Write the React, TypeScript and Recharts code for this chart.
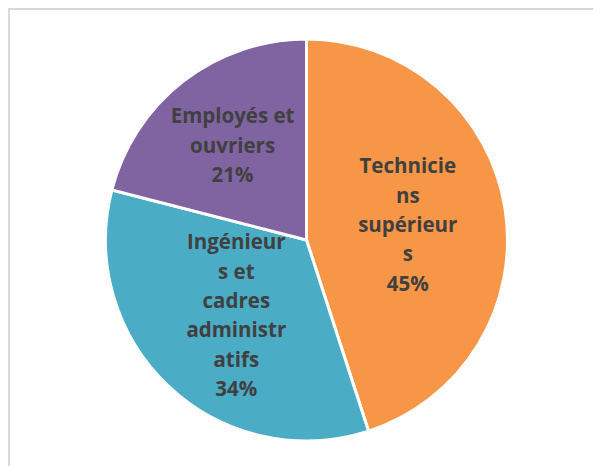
import React from "react";
import { PieChart, Pie, Cell } from "recharts";

const categories = ["Techniciens supérieurs", "Ingénieurs et cadres administratifs", "Employés et ouvriers"];
const values = [45, 34, 21];
const percentLabels = ["45%", "34%", "21%"];
const labelLines = [
  ["Technicie", "ns", "supérieur", "s"],
  ["Ingénieur", "s et", "cadres", "administr", "atifs"],
  ["Employés et", "ouvriers"],
];
const colors = ["#F79646", "#4BACC6", "#8064A2"];

const data = categories.map((name, i) => ({ name, value: values[i] }));

const RAD = Math.PI / 180;
const labelRadiusFactor = [0.51, 0.51, 0.6];

const renderLabel = (props: any) => {
  const { cx, cy, midAngle, outerRadius, index } = props;
  const r = outerRadius * labelRadiusFactor[index];
  const x = cx + r * Math.cos(-midAngle * RAD);
  const y = cy + r * Math.sin(-midAngle * RAD);
  const lines = [...labelLines[index], percentLabels[index]];
  const lh = 29.3;
  const startY = y - ((lines.length - 1) * lh) / 2;
  return (
    <text
      x={x}
      y={startY}
      textAnchor="middle"
      dominantBaseline="central"
      fill="#404040"
      fontFamily="'Open Sans', sans-serif"
      fontWeight="bold"
      fontSize={20.5}
    >
      {lines.map((l, i) => (
        <tspan key={i} x={x} y={startY + i * lh}>
          {l}
        </tspan>
      ))}
    </text>
  );
};

export default function App() {
  return (
    <div
      style={{
        width: 593,
        height: 458,
        borderTop: "2px solid #d9d9d9",
        borderLeft: "2px solid #d9d9d9",
        boxSizing: "border-box",
        background: "#fff",
      }}
    >
      <PieChart width={591} height={456} margin={{ top: 0, right: 0, bottom: 0, left: 0 }}>
        <Pie
          data={data}
          dataKey="value"
          nameKey="name"
          cx={296.5}
          cy={230}
          outerRadius={201}
          startAngle={90}
          endAngle={-270}
          stroke="#ffffff"
          strokeWidth={3}
          label={renderLabel}
          labelLine={false}
          isAnimationActive={false}
        >
          {data.map((d, i) => (
            <Cell key={d.name} fill={colors[i]} />
          ))}
        </Pie>
      </PieChart>
    </div>
  );
}
